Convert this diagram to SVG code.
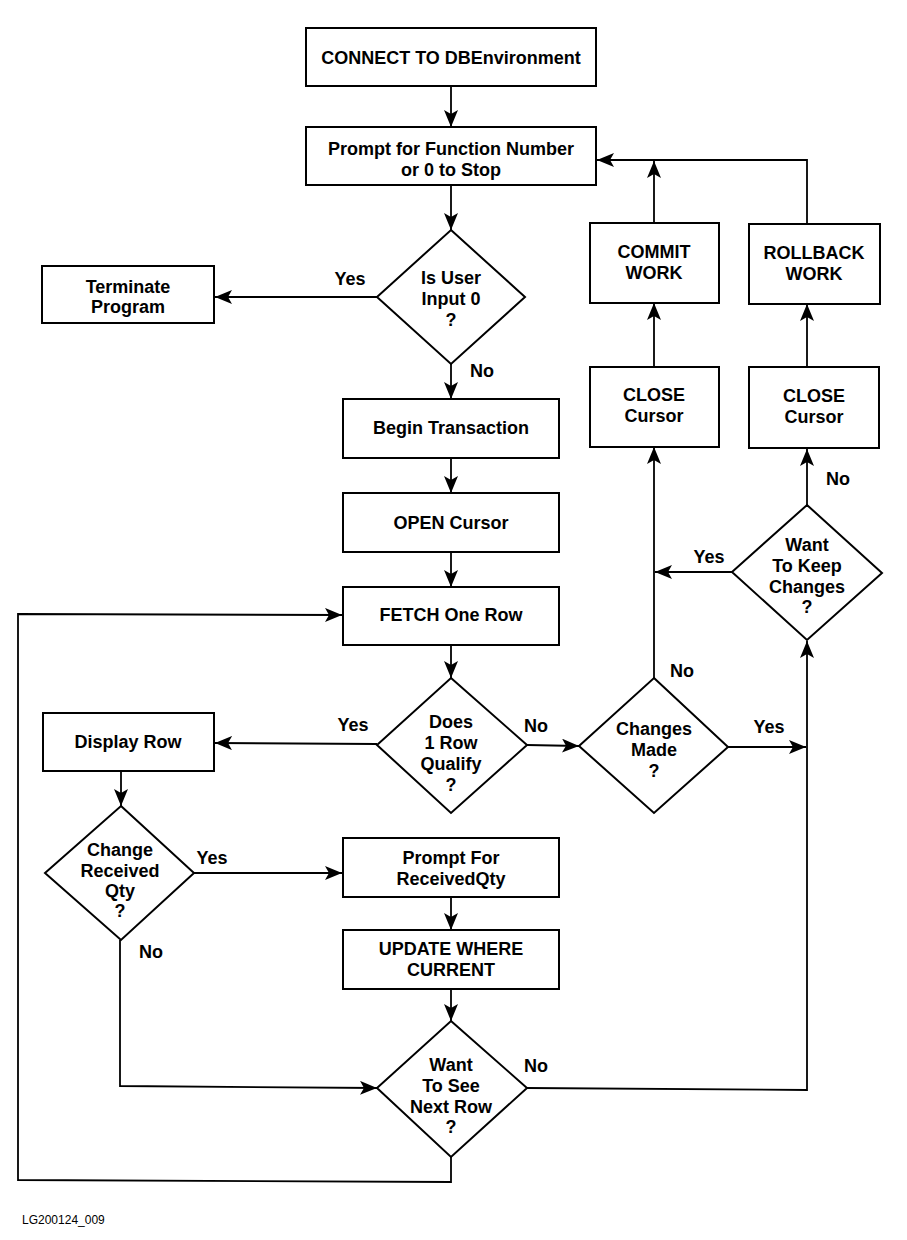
<svg xmlns="http://www.w3.org/2000/svg" width="907" height="1240" viewBox="0 0 907 1240">
<style>
.box{fill:#fff;stroke:#000;stroke-width:2}
.t{font-family:"Liberation Sans",Arial,sans-serif;font-weight:bold;font-size:18px;text-anchor:middle;fill:#000}
.lbl{font-family:"Liberation Sans",Arial,sans-serif;font-weight:bold;font-size:18px;text-anchor:middle;fill:#000}
.c{fill:none;stroke:#000;stroke-width:1.8}
.a{marker-end:url(#arr)}
.foot{font-family:"Liberation Sans",Arial,sans-serif;font-size:12px;fill:#000}
</style>
<defs>
<marker id="arr" markerUnits="userSpaceOnUse" markerWidth="18" markerHeight="14" refX="17" refY="7" orient="auto">
<path d="M0,0 L17,7 L0,14 L4,7 z" fill="#000"/>
</marker>
</defs>
<rect width="907" height="1240" fill="#fff"/>

<g id="connectors">
<line class="c a" x1="451" y1="86" x2="451" y2="127"/>
<line class="c a" x1="451" y1="185" x2="451" y2="230"/>
<line class="c a" x1="377" y1="297" x2="215" y2="297"/>
<line class="c a" x1="451" y1="364" x2="451" y2="399"/>
<line class="c a" x1="451" y1="458" x2="451" y2="493"/>
<line class="c a" x1="451" y1="552" x2="451" y2="587"/>
<line class="c a" x1="451" y1="645" x2="451" y2="678"/>
<line class="c a" x1="377" y1="744" x2="215" y2="743"/>
<line class="c a" x1="527" y1="745" x2="579" y2="746"/>
<line class="c a" x1="654" y1="678" x2="654" y2="447"/>
<line class="c a" x1="654" y1="367" x2="654" y2="303"/>
<line class="c a" x1="654" y1="223" x2="654" y2="161"/>
<polyline class="c a" points="807,224 807,160 597,160"/>
<line class="c a" x1="732" y1="572" x2="655" y2="572"/>
<line class="c a" x1="807" y1="505" x2="807" y2="449"/>
<line class="c a" x1="807" y1="367" x2="807" y2="304"/>
<line class="c a" x1="728" y1="747" x2="806" y2="747"/>
<polyline class="c a" points="527,1088 807,1090 807,641"/>
<line class="c a" x1="121" y1="771" x2="121" y2="806"/>
<line class="c a" x1="194" y1="873" x2="342" y2="873"/>
<polyline class="c a" points="120,940 120,1086 377,1088"/>
<line class="c a" x1="451" y1="897" x2="451" y2="930"/>
<line class="c a" x1="451" y1="989" x2="451" y2="1021"/>
<polyline class="c a" points="451,1157 451,1182 18,1180 18,614 342,615"/>
</g>

<g id="connect">
<rect class="box" x="306" y="28" width="290" height="58"/>
<text class="t" x="451" y="64">CONNECT TO DBEnvironment</text>
</g>
<g id="prompt-function">
<rect class="box" x="306" y="127" width="290" height="58"/>
<text class="t" x="451" y="155">Prompt for Function Number</text>
<text class="t" x="451" y="176">or 0 to Stop</text>
</g>
<g id="is-user-input">
<polygon class="box" points="451,230 525,297 451,364 377,297"/>
<text class="t" x="451" y="284">Is User</text>
<text class="t" x="451" y="305">Input 0</text>
<text class="t" x="451" y="326">?</text>
</g>
<g id="terminate">
<rect class="box" x="42" y="266" width="172" height="57"/>
<text class="t" x="128" y="293">Terminate</text>
<text class="t" x="128" y="313">Program</text>
</g>
<g id="begin-transaction">
<rect class="box" x="343" y="399" width="216" height="59"/>
<text class="t" x="451" y="434">Begin Transaction</text>
</g>
<g id="open-cursor">
<rect class="box" x="343" y="493" width="216" height="59"/>
<text class="t" x="451" y="529">OPEN Cursor</text>
</g>
<g id="fetch">
<rect class="box" x="343" y="587" width="216" height="58"/>
<text class="t" x="451" y="621">FETCH One Row</text>
</g>
<g id="does-row-qualify">
<polygon class="box" points="451,678 527,745 451,813 377,745"/>
<text class="t" x="451" y="728">Does</text>
<text class="t" x="451" y="749">1 Row</text>
<text class="t" x="451" y="770">Qualify</text>
<text class="t" x="451" y="791">?</text>
</g>
<g id="display-row">
<rect class="box" x="43" y="713" width="171" height="58"/>
<text class="t" x="128" y="748">Display Row</text>
</g>
<g id="changes-made">
<polygon class="box" points="654,678 728,747 654,813 579,746"/>
<text class="t" x="654" y="735">Changes</text>
<text class="t" x="654" y="756">Made</text>
<text class="t" x="654" y="777">?</text>
</g>
<g id="close-cursor-commit">
<rect class="box" x="590" y="367" width="129" height="80"/>
<text class="t" x="654" y="401">CLOSE</text>
<text class="t" x="654" y="422">Cursor</text>
</g>
<g id="commit-work">
<rect class="box" x="590" y="223" width="129" height="80"/>
<text class="t" x="654" y="258">COMMIT</text>
<text class="t" x="654" y="279">WORK</text>
</g>
<g id="close-cursor-rollback">
<rect class="box" x="749" y="367" width="130" height="81"/>
<text class="t" x="814" y="402">CLOSE</text>
<text class="t" x="814" y="423">Cursor</text>
</g>
<g id="rollback-work">
<rect class="box" x="749" y="224" width="131" height="80"/>
<text class="t" x="814" y="259">ROLLBACK</text>
<text class="t" x="814" y="280">WORK</text>
</g>
<g id="want-keep-changes">
<polygon class="box" points="807,505 882,573 807,640 732,572"/>
<text class="t" x="807" y="551">Want</text>
<text class="t" x="807" y="572">To Keep</text>
<text class="t" x="807" y="593">Changes</text>
<text class="t" x="807" y="613">?</text>
</g>
<g id="change-received-qty">
<polygon class="box" points="121,806 194,873 121,940 45,873"/>
<text class="t" x="120" y="856">Change</text>
<text class="t" x="120" y="877">Received</text>
<text class="t" x="120" y="897">Qty</text>
<text class="t" x="120" y="917">?</text>
</g>
<g id="prompt-received-qty">
<rect class="box" x="343" y="838" width="216" height="59"/>
<text class="t" x="451" y="864">Prompt For</text>
<text class="t" x="451" y="885">ReceivedQty</text>
</g>
<g id="update-where-current">
<rect class="box" x="343" y="930" width="216" height="59"/>
<text class="t" x="451" y="955">UPDATE WHERE</text>
<text class="t" x="451" y="976">CURRENT</text>
</g>
<g id="want-see-next-row">
<polygon class="box" points="451,1021 527,1088 451,1157 377,1088"/>
<text class="t" x="451" y="1071">Want</text>
<text class="t" x="451" y="1092">To See</text>
<text class="t" x="451" y="1113">Next Row</text>
<text class="t" x="451" y="1133">?</text>
</g>

<g id="labels">
<text class="lbl" x="350" y="285">Yes</text>
<text class="lbl" x="482" y="377">No</text>
<text class="lbl" x="353" y="731">Yes</text>
<text class="lbl" x="536" y="732">No</text>
<text class="lbl" x="682" y="677">No</text>
<text class="lbl" x="769" y="733">Yes</text>
<text class="lbl" x="709" y="563">Yes</text>
<text class="lbl" x="838" y="485">No</text>
<text class="lbl" x="212" y="864">Yes</text>
<text class="lbl" x="151" y="958">No</text>
<text class="lbl" x="536" y="1072">No</text>
</g>
<text class="foot" x="22" y="1224">LG200124_009</text>
</svg>
